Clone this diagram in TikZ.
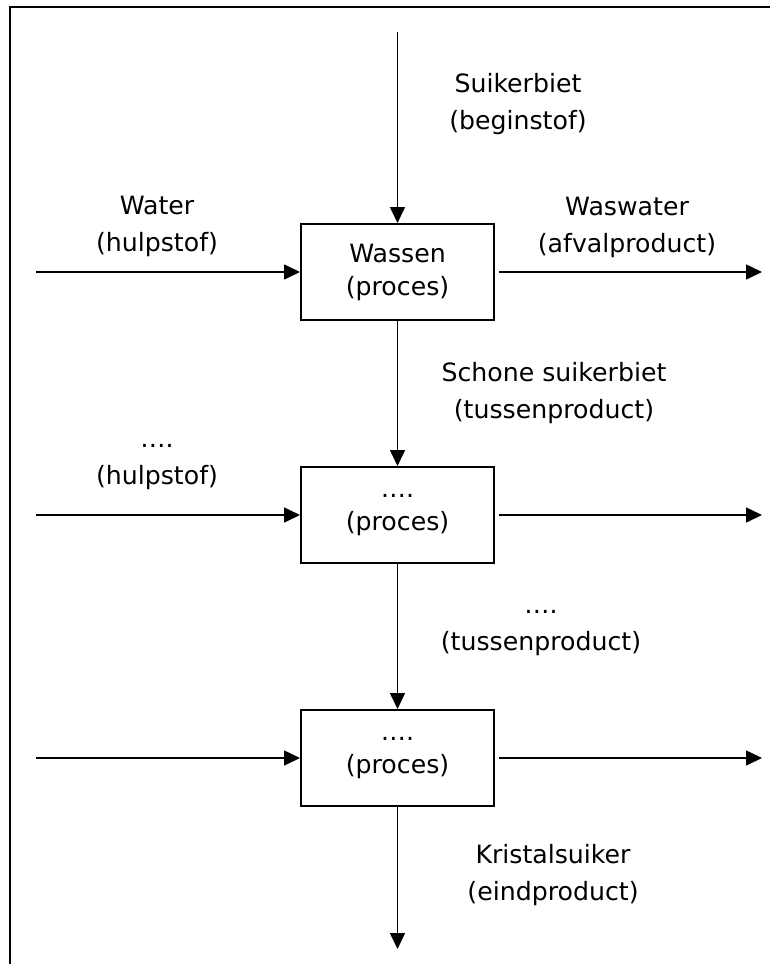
\documentclass[tikz,border=0pt]{standalone}
\usepackage{fontspec}
\setmainfont{DejaVu Sans}
\usetikzlibrary{positioning, arrows.meta, calc}

\begin{document}
\begin{tikzpicture}[
  x=0.5pt, y=-0.5pt,
  proces/.style={
    rectangle, draw, line width=1pt,
    minimum width=96.5pt, minimum height=48pt, inner sep=0pt,
    font=\fontsize{12.6}{16.5}\selectfont, align=center
  },
  lbl/.style={font=\fontsize{12.6}{18.5}\selectfont, align=center, inner sep=0pt},
  arr/.style={-{Triangle[length=8pt, width=7.5pt]}, line width=0.8pt},
]
\useasboundingbox (0,0) rectangle (770,964);

% Frame
\draw[line width=1.1pt] (770,7) -- (10,7) -- (10,964);

% Processes
\node[proces] (wassen) at (397.5,272) {Wassen\\(proces)};
\node[proces, below=72.5pt of wassen] (proces2) {….\\(proces)};
\node[proces, below=72.5pt of proces2] (proces3) {….\\(proces)};

% Free ends
\coordinate (begin) at (397.5,32);
\coordinate (eind) at (397.5,949);
\coordinate (in1) at (36,0 |- wassen.west);
\coordinate (in2) at (36,0 |- proces2.west);
\coordinate (in3) at (36,0 |- proces3.west);
\coordinate (uit1) at (762,0 |- wassen.east);
\coordinate (uit2) at (762,0 |- proces2.east);
\coordinate (uit3) at (762,0 |- proces3.east);

% Arrows
\draw[arr] (begin) -- (wassen);
\draw[arr] (wassen) -- (proces2);
\draw[arr] (proces2) -- (proces3);
\draw[arr] (proces3) -- (eind);
\draw[arr] (in1) -- (wassen);
\draw[arr] (in2) -- (proces2);
\draw[arr] (in3) -- (proces3);
\draw[arr] ([xshift=2pt]wassen.east) -- (uit1);
\draw[arr] ([xshift=2pt]proces2.east) -- (uit2);
\draw[arr] ([xshift=2pt]proces3.east) -- (uit3);

% Labels
\node[lbl] (suiker) at (518,104) {Suikerbiet\\(beginstof)};
\node[lbl] (water) at (157,226) {Water\\(hulpstof)};
\node[lbl] (waswater) at (627,227) {Waswater\\(afvalproduct)};
\node[lbl] (schoon) at (554,393) {Schone suikerbiet\\(tussenproduct)};
\node[lbl] (hulp2) at (157,467) {….\\(hulpstof)};
\node[lbl] (tussen2) at (541,633) {….\\(tussenproduct)};
\node[lbl] (kristal) at (553,875) {Kristalsuiker\\(eindproduct)};
\end{tikzpicture}
\end{document}
